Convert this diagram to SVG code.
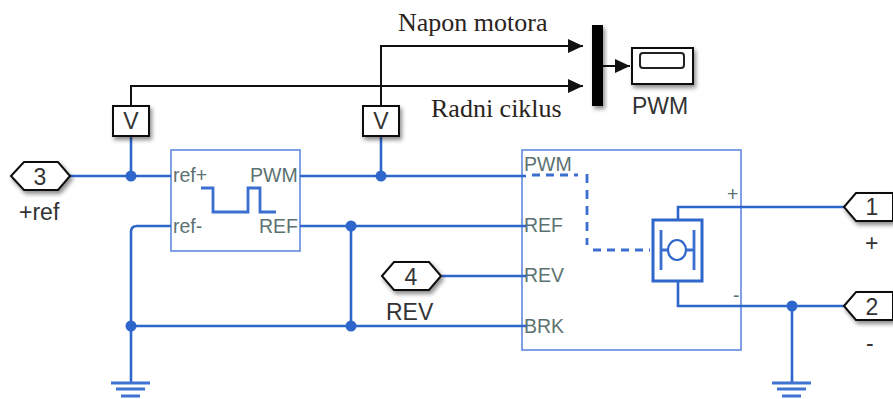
<svg xmlns="http://www.w3.org/2000/svg" width="893" height="399" viewBox="0 0 893 399">
<style>
text{font-family:"Liberation Sans",Arial,sans-serif}
.w{fill:none;stroke:#2f66cc;stroke-width:2.6}
.th{fill:none;stroke:#3a6fd0;stroke-width:2.8}
.k{fill:none;stroke:#111;stroke-width:2}
.blk{fill:#fff;stroke:#5f8ade;stroke-width:1.6}
.box{fill:#fff;stroke:#111;stroke-width:2;filter:url(#s)}
.d{fill:#2f66cc}
.p{font-size:19.5px;fill:#5c7272}
.l{font-size:23px;fill:#333}
.n{font-size:23px;fill:#333;text-anchor:middle}
.se{font-family:"Liberation Serif",serif;font-size:26px;fill:#2a2320}
.g{stroke:#3f72d2;stroke-width:3}
</style>
<defs>
<filter id="s" x="-30%" y="-30%" width="170%" height="170%"><feDropShadow dx="2" dy="3" stdDeviation="2.2" flood-color="#000" flood-opacity=".45"/></filter>
<marker id="a" markerUnits="userSpaceOnUse" markerWidth="16" markerHeight="16" refX="15" refY="8" orient="auto"><path d="M0 1L15 8L0 15Z" fill="#111"/></marker>
</defs>
<g id="sw-block"><rect class="blk" x="171" y="150" width="129" height="101"/>
<text class="p" x="173" y="182">ref+</text><text class="p" x="250" y="182">PWM</text><text class="p" x="173" y="233">ref-</text><text class="p" x="259" y="233">REF</text>
<path class="th" d="M201 188H213V212H248V188H260V212H276"/></g>
<g id="driver"><rect class="blk" x="522" y="150" width="219" height="200"/>
<text class="p" x="524" y="171">PWM</text><text class="p" x="524" y="232">REF</text><text class="p" x="524" y="282">REV</text><text class="p" x="524" y="333">BRK</text>
<text class="p" x="727" y="201">+</text><text class="p" x="733" y="302">-</text>
<path class="th" stroke-dasharray="8 6" d="M532 175H578"/><path class="th" stroke-dasharray="9 7" d="M587 174V245"/><path class="th" stroke-dasharray="8 6" d="M593 250H650"/>
<rect x="653" y="220" width="49" height="61" fill="none" stroke="#2f66cc" stroke-width="3"/>
<path class="th" d="M661 230V270M694 230V270M661 250H668M686 250H694"/><ellipse cx="677" cy="250" rx="9" ry="10" fill="none" stroke="#2f66cc" stroke-width="2.2"/></g>
<g id="connectors">
<path class="k" d="M131 106V86H583" marker-end="url(#a)"/>
<path class="k" d="M381 106V46H583" marker-end="url(#a)"/>
<path class="k" d="M603 66H630" marker-end="url(#a)"/>
<path class="w" d="M70 176H171M131 136V176M300 176H526M381 136V176M300 226H526M351 226V326M131 382V232Q131 226 137 226H171M131 326H526M442 276H526"/>
<path class="w" d="M678 220V207H846M678 281V306H846M792 306V382"/>
<path class="g" d="M111 383H150M116 389H145M121 396H140M772 383H811M777 389H806M782 396H801"/>
<circle class="d" cx="131" cy="176" r="5.5"/><circle class="d" cx="381" cy="176" r="5.5"/><circle class="d" cx="351" cy="226" r="5.5"/><circle class="d" cx="351" cy="326" r="5.5"/><circle class="d" cx="131" cy="326" r="5.5"/><circle class="d" cx="792" cy="306" r="5.5"/>
</g>
<g id="in3"><path class="box" d="M11 176L24 162H58L70 176L58 190H24Z"/><text class="n" x="40" y="185">3</text><text class="l" x="19" y="220">+ref</text></g>
<g id="in4"><path class="box" d="M382 276L394 262H429L441 276L429 290H394Z"/><text class="n" x="411" y="285">4</text><text class="l" x="386" y="320">REV</text></g>
<g id="out1"><path class="box" d="M844 207L856 193H893V221H856Z"/><text class="n" x="872" y="215">1</text><text class="l" x="865" y="251">+</text></g>
<g id="out2"><path class="box" d="M844 306L856 292H893V320H856Z"/><text class="n" x="872" y="315">2</text><text class="l" x="866" y="351">-</text></g>
<g id="v1"><rect class="box" x="113" y="106" width="36" height="30"/><text class="n" x="131" y="129">V</text></g>
<g id="v2"><rect class="box" x="363" y="106" width="36" height="30"/><text class="n" x="381" y="129">V</text></g>
<g id="mux"><rect x="592" y="25" width="11" height="81" fill="#000" filter="url(#s)"/></g>
<g id="scope"><rect class="box" x="632" y="48" width="61" height="36"/><rect x="640" y="53" width="44" height="15" rx="3" fill="none" stroke="#222" stroke-width="2"/><text class="l" x="632" y="114">PWM</text></g>
<text class="se" x="398" y="31">Napon motora</text>
<text class="se" x="431" y="117">Radni ciklus</text>
</svg>
